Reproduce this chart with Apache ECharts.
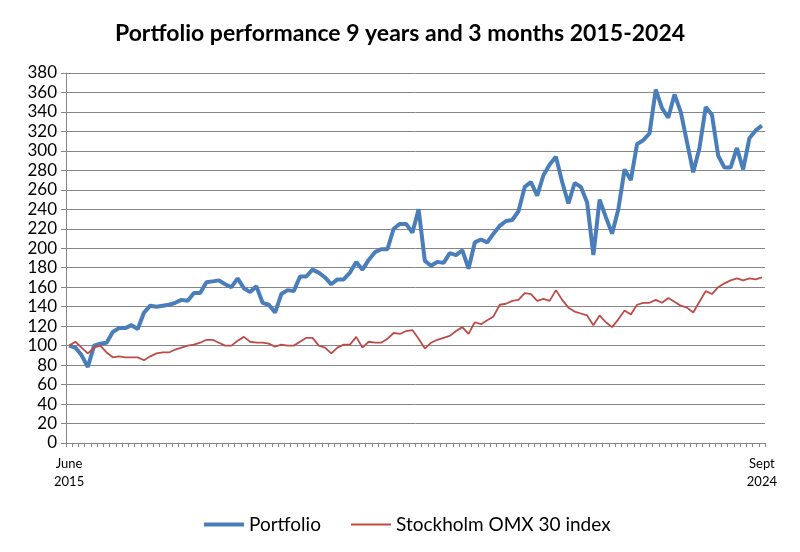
<!DOCTYPE html>
<html>
<head>
<meta charset="utf-8">
<script src="https://cdn.jsdelivr.net/npm/echarts@6/dist/echarts.min.js"></script>
<style>html,body{margin:0;padding:0;background:#fff}#c{width:800px;height:552px}</style>
</head>
<body>
<div id="c"></div>
<script>
const monthNames = ['Jan','Feb','Mar','Apr','May','June','July','Aug','Sept','Oct','Nov','Dec'];
const startYear = 2015, startMonth = 5, monthCount = 112;
const categories = [];
for (let k = 0; k < monthCount; k++) {
  const m = (startMonth + k) % 12;
  const y = startYear + Math.floor((startMonth + k) / 12);
  categories.push(monthNames[m] + ' ' + y);
}
const portfolio = [
  100, 98, 90, 78, 100, 102, 103, 114, 118, 118, 121, 117, 134, 141, 140, 141, 142, 144, 147, 146,
  154, 154, 165, 166, 167, 163, 160, 169, 159, 155, 161, 144, 142, 134, 153, 157, 156, 171, 171, 178,
  175, 170, 163, 168, 168, 175, 186, 178, 188, 196, 199, 199, 220, 225, 225, 216, 240, 187, 182, 186,
  185, 195, 193, 198, 179, 206, 209, 206, 215, 223, 228, 229, 238, 263, 268, 254, 275, 286, 294, 268,
  246, 267, 263, 247, 193, 250, 232, 215, 240, 281, 270, 307, 311, 318, 363, 344, 334, 358, 340, 309,
  278, 303, 345, 337, 295, 283, 283, 303, 281, 313, 321, 326
];
const omx30 = [
  100, 104, 98, 92, 98, 100, 93, 88, 89, 88, 88, 88, 85, 89, 92, 93, 93, 96, 98, 100,
  101, 103, 106, 106, 103, 100, 100, 105, 109, 104, 103, 103, 102, 99, 101, 100, 100, 104, 108, 108,
  100, 98, 92, 98, 101, 101, 109, 98, 104, 103, 103, 107, 113, 112, 115, 116, 107, 97, 103, 106,
  108, 110, 115, 119, 112, 124, 122, 126, 130, 142, 143, 146, 147, 154, 153, 146, 148, 146, 157, 147,
  139, 135, 133, 131, 121, 131, 124, 119, 127, 136, 132, 142, 144, 144, 147, 144, 149, 145, 141, 139,
  134, 145, 156, 153, 160, 164, 167, 169, 167, 169, 168, 170
];
const yTicks = {min: 0, max: 380, interval: 20};
const FONT = 'Lato, "Open Sans", sans-serif';
const BLUE = '#4a7ebb', RED = '#be4b48';

const legendBase = {
  top: 510, orient: 'horizontal', icon: 'rect', itemWidth: 40,
  textStyle: {fontFamily: FONT, fontSize: 19, color: '#000'}
};

const chart = echarts.init(document.getElementById('c'), null, {renderer: 'canvas'});
chart.setOption({
  animation: false,
  backgroundColor: '#fff',
  title: {
    text: 'Portfolio performance 9 years and 3 months 2015-2024',
    left: 'center', top: 17,
    textStyle: {fontFamily: FONT, fontSize: 23, fontWeight: 'bold', color: '#000'}
  },
  legend: [
    Object.assign({}, legendBase, {left: 199, itemHeight: 4, data: ['Portfolio']}),
    Object.assign({}, legendBase, {left: 346, itemHeight: 2, data: ['Stockholm OMX 30 index']})
  ],
  grid: {left: 66, right: 35, top: 73, bottom: 109, containLabel: false},
  xAxis: {
    type: 'category',
    data: categories,
    boundaryGap: true,
    axisLine: {lineStyle: {color: '#868686', width: 1}},
    axisTick: {show: true, interval: 0, length: 4, lineStyle: {color: '#868686'}},
    axisLabel: {
      interval: (i) => i === 0 || i === categories.length - 1,
      formatter: (v) => v.replace(' ', '\n'),
      fontFamily: FONT, fontSize: 13, color: '#000', lineHeight: 18, margin: 12
    },
    splitLine: {show: false}
  },
  yAxis: {
    type: 'value',
    min: yTicks.min, max: yTicks.max, interval: yTicks.interval,
    axisLine: {show: true, lineStyle: {color: '#868686'}},
    axisTick: {show: true, length: 5, lineStyle: {color: '#868686'}},
    axisLabel: {fontFamily: FONT, fontSize: 17, color: '#000', margin: 9},
    splitLine: {lineStyle: {color: '#868686', width: 1}}
  },
  series: [
    {
      name: 'Portfolio', type: 'line', data: portfolio, symbol: 'none',
      lineStyle: {color: BLUE, width: 4}, itemStyle: {color: BLUE}
    },
    {
      name: 'Stockholm OMX 30 index', type: 'line', data: omx30, symbol: 'none',
      lineStyle: {color: RED, width: 1.8}, itemStyle: {color: RED}
    }
  ]
});
</script>
</body>
</html>
